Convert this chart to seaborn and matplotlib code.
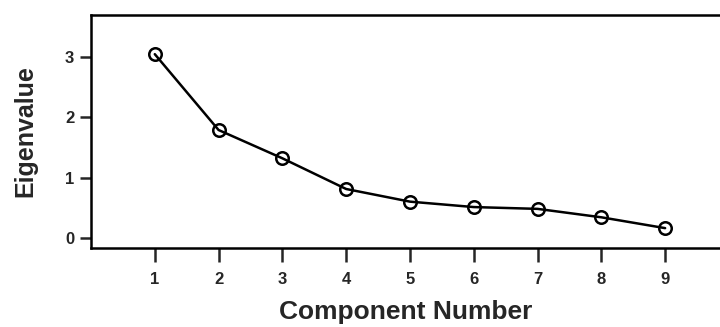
import numpy as np
import pandas as pd
import seaborn as sns
import matplotlib.pyplot as plt

components = [1, 2, 3, 4, 5, 6, 7, 8, 9]
eigenvalues = [3.05, 1.79, 1.32, 0.81, 0.60, 0.51, 0.48, 0.34, 0.16]
y_ticks = [0, 1, 2, 3]

df = pd.DataFrame({'component': components, 'eigenvalue': eigenvalues})

sns.set_style('ticks')
plt.rcParams['font.family'] = ['Liberation Sans', 'DejaVu Sans']

fig = plt.figure(figsize=(7.2, 3.27), dpi=100)
ax = fig.add_axes([0.1264, 0.2416, 0.8736, 0.7124])

sns.lineplot(data=df, x='component', y='eigenvalue', ax=ax, color='black',
             linewidth=1.8, marker='o', markersize=9, markerfacecolor='none',
             markeredgecolor='black', markeredgewidth=1.8)

ax.set_xlim(0, 9.86)
ax.set_ylim(-0.17, 3.70)
ax.set_xticks(components)
ax.set_yticks(y_ticks)
ax.tick_params(axis='x', length=10, width=1.8, pad=7, labelsize=12)
ax.tick_params(axis='y', length=8, width=1.8, pad=4, labelsize=12)
for lab in ax.get_xticklabels() + ax.get_yticklabels():
    lab.set_fontweight('bold')

ax.spines['right'].set_visible(False)
for s in ['left', 'bottom', 'top']:
    ax.spines[s].set_linewidth(1.8)
    ax.spines[s].set_color('black')

ax.set_xlabel('Component Number', fontsize=19, fontweight='bold', labelpad=10)
ax.set_ylabel('Eigenvalue', fontsize=18, fontweight='bold', labelpad=20)

fig.savefig('out.png', dpi=100)
